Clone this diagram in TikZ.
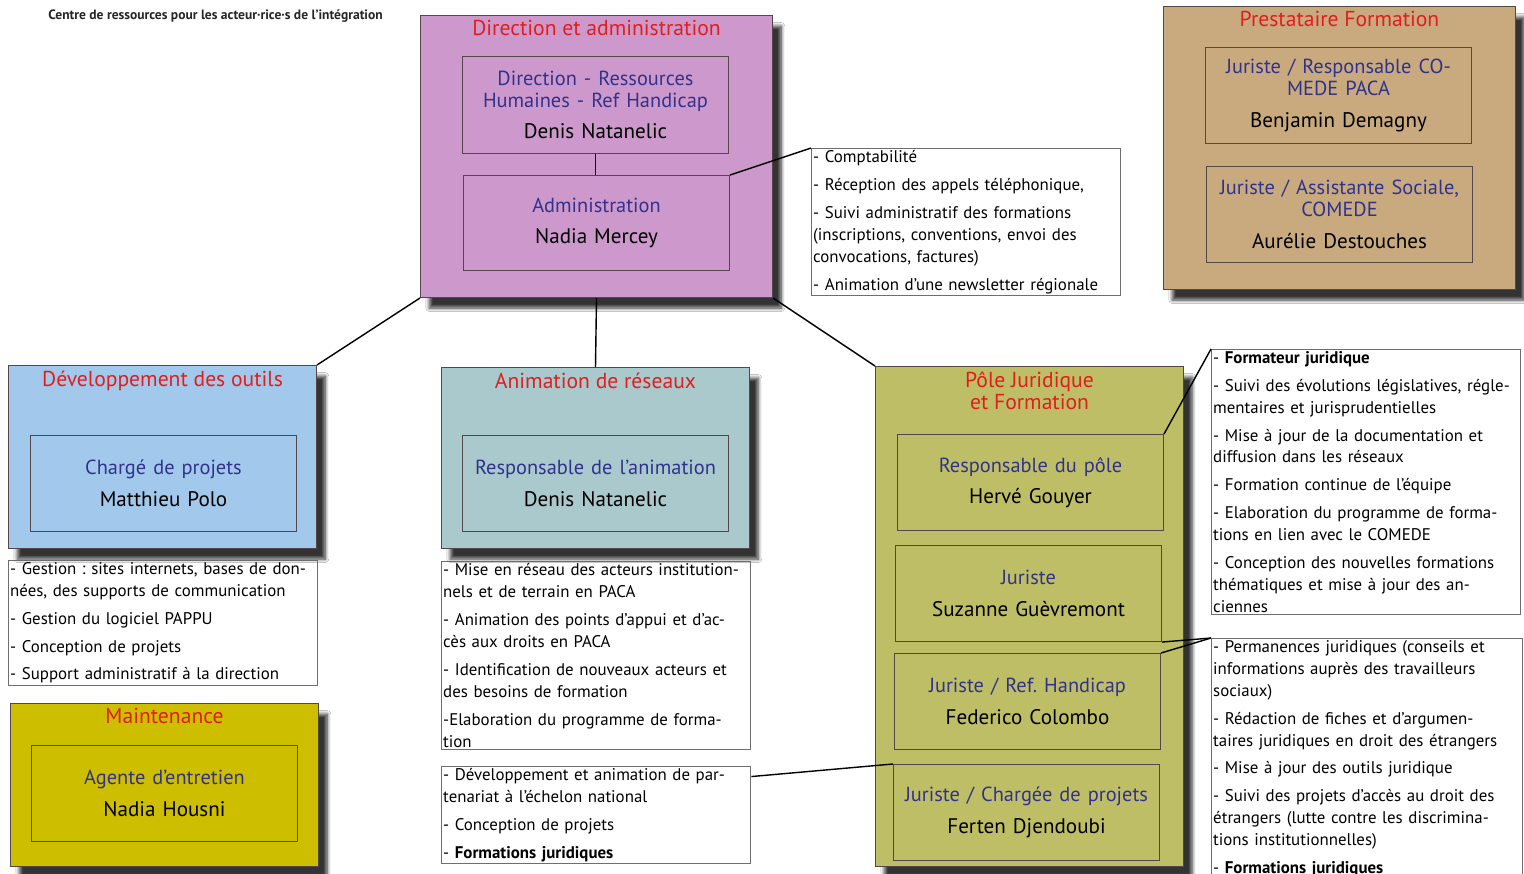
\documentclass[tikz,border=0pt]{standalone}
\usepackage{fontspec}
\setmainfont{PT Sans}
\usetikzlibrary{positioning,shadows.blur}
\frenchspacing

\definecolor{rose}{RGB}{205,153,204}
\definecolor{sable}{RGB}{200,170,126}
\definecolor{ciel}{RGB}{162,201,236}
\definecolor{moutarde}{RGB}{205,190,0}
\definecolor{bleugris}{RGB}{169,201,204}
\definecolor{olive}{RGB}{190,190,102}
\definecolor{rouge}{RGB}{225,30,30}
\definecolor{bleu}{RGB}{50,50,140}
\definecolor{cadre}{RGB}{85,70,75}
\definecolor{gris}{RGB}{110,110,110}

\newcommand{\fonction}[1]{{\color{bleu}\fontsize{11.6}{12.5}\selectfont #1}}

\tikzset{
  dept/.style={draw=cadre, line width=0.6pt, anchor=north west, minimum width=6.16cm, inner sep=0pt,
    blur shadow={shadow xshift=5pt, shadow yshift=-6pt, shadow blur steps=8, shadow opacity=80}},
  poste/.style={draw=cadre, line width=0.6pt, anchor=north west, minimum width=5.32cm, minimum height=1.92cm,
    text width=5.25cm, align=center, inner sep=0pt, font=\fontsize{12}{12.5}\selectfont},
  entete/.style={text=rouge, font=\fontsize{12.3}{12.8}\selectfont, align=center, inner sep=1pt},
  taches/.style={draw=gris, line width=0.5pt, anchor=north west, text width=6.12cm, align=left,
    inner sep=1pt, font=\fontsize{9.6}{12.5}\selectfont},
  lien/.style={line width=0.8pt}
}

\begin{document}
\begin{tikzpicture}[x=0.02cm, y=-0.02cm]
\fill[white] (0,0) rectangle (1524,873);
\useasboundingbox (0,0) rectangle (1524,873);

\node[anchor=west, inner sep=0pt, font=\bfseries\fontsize{7.7}{9}\selectfont, text=black!85] (titre) at (48,16)
  {Centre de ressources pour les acteur·rice·s de l’intégration};

% direction
\node[dept, fill=rose, minimum width=7.04cm, minimum height=5.64cm] (dir) at (420,15) {};
\node[entete, below=2pt of dir.north] (dirtitre) {Direction et administration};
\node[poste, minimum height=1.94cm] (drh) at (462,56)
  {\fonction{Direction - Ressources\\Humaines - Ref Handicap}\\[5.5pt]Denis Natanelic};
\node[poste, minimum height=1.90cm] (admin) at (463,175)
  {\fonction{Administration}\\[5.5pt]Nadia Mercey};
\node[taches] (compta) at (811,148)
  {- Comptabilité\\[3.4pt]
   - Réception des appels téléphonique,\\[3.4pt]
   - Suivi administratif des formations\\
   (inscriptions, conventions, envoi des\\
   convocations, factures)\\[3.4pt]
   - Animation d’une newsletter régionale};

% prestataire
\node[dept, fill=sable, minimum width=7.04cm, minimum height=5.66cm] (presta) at (1163,6) {};
\node[entete, below=2pt of presta.north] (prestatitre) {Prestataire Formation};
\node[poste] (comede) at (1205,47)
  {\fonction{Juriste / Responsable CO-\\MEDE PACA}\\[5.5pt]Benjamin Demagny};
\node[poste] (assist) at (1206,166)
  {\fonction{Juriste / Assistante Sociale,\\COMEDE}\\[5.5pt]Aurélie Destouches};

% outils
\node[dept, fill=ciel, minimum height=3.66cm] (outils) at (8,365) {};
\node[entete, below=2pt of outils.north] (outilstitre) {Développement des outils};
\node[poste] (charge) at (30,435) {\fonction{Chargé de projets}\\[5.5pt]Matthieu Polo};
\node[taches] (outilstaches) at (8,560)
  {- Gestion : sites internets, bases de don-\\
   nées, des supports de communication\\[3.4pt]
   - Gestion du logiciel PAPPU\\[3.4pt]
   - Conception de projets\\[3.4pt]
   - Support administratif à la direction};

% maintenance
\node[dept, fill=moutarde, minimum height=3.26cm] (maint) at (10,703) {};
\node[entete, below=2pt of maint.north] (mainttitre) {Maintenance};
\node[poste] (agente) at (31,745) {\fonction{Agente d’entretien}\\[5.5pt]Nadia Housni};

% animation
\node[dept, fill=bleugris, minimum height=3.62cm] (anim) at (441,367) {};
\node[entete, below=2pt of anim.north] (animtitre) {Animation de réseaux};
\node[poste] (respanim) at (462,435) {\fonction{Responsable de l’animation}\\[5.5pt]Denis Natanelic};
\node[taches] (animtaches) at (441,561)
  {- Mise en réseau des acteurs institution-\\
   nels et de terrain en PACA\\[3.4pt]
   - Animation des points d’appui et d’ac-\\
   cès aux droits en PACA\\[3.4pt]
   - Identification de nouveaux acteurs et\\
   des besoins de formation\\[3.4pt]
   -Elaboration du programme de forma-\\
   tion};
\node[taches] (partenariat) at (441,766)
  {- Développement et animation de par-\\
   tenariat à l’échelon national\\[3.4pt]
   - Conception de projets\\[3.4pt]
   - \textbf{Formations juridiques}};

% pole juridique
\node[dept, fill=olive, minimum height=10cm] (pole) at (875,366) {};
\node[entete, below=2pt of pole.north] (poletitre) {Pôle Juridique\\et Formation};
\node[poste] (resppole) at (897,434) {\fonction{Responsable du pôle}\\[5.5pt]Hervé Gouyer};
\node[poste] (juriste) at (895,545) {\fonction{Juriste}\\[5.5pt]Suzanne Guèvremont};
\node[poste] (handi) at (894,653) {\fonction{Juriste / Ref. Handicap}\\[5.5pt]Federico Colombo};
\node[poste] (ferten) at (893,764) {\fonction{Juriste / Chargée de projets}\\[5.5pt]Ferten Djendoubi};
\node[taches] (formateur) at (1211,349)
  {- \textbf{Formateur juridique}\\[3.4pt]
   - Suivi des évolutions législatives, régle-\\
   mentaires et jurisprudentielles\\[3.4pt]
   - Mise à jour de la documentation et\\
   diffusion dans les réseaux\\[3.4pt]
   - Formation continue de l’équipe\\[3.4pt]
   - Elaboration du programme de forma-\\
   tions en lien avec le COMEDE\\[3.4pt]
   - Conception des nouvelles formations\\
   thématiques et mise à jour des an-\\
   ciennes};
\node[taches, text width=6.16cm] (perm) at (1211,638)
  {- Permanences juridiques (conseils et\\
   informations auprès des travailleurs\\
   sociaux)\\[3.4pt]
   - Rédaction de fiches et d’argumen-\\
   taires juridiques en droit des étrangers\\[3.4pt]
   - Mise à jour des outils juridique\\[3.4pt]
   - Suivi des projets d’accès au droit des\\
   étrangers (lutte contre les discrimina-\\
   tions institutionnelles)\\[3.4pt]
   - \textbf{Formations juridiques}};

% liens
\draw[lien] (drh.south) -- (drh.south |- admin.north);
\draw[lien] (admin.north east) -- (compta.north west);
\draw[lien] (dir.south west) -- (outils.north east);
\draw[lien] (dir.south) -- (anim.north);
\draw[lien] (dir.south east) -- (pole.north west);
\draw[lien] (resppole.north east) -- (formateur.north west);
\draw[lien] (juriste.south east) -- (perm.north west);
\draw[lien] (handi.north east) -- (perm.north west);
\draw[lien] ([yshift=-6pt]partenariat.north east) -- (ferten.north west);
\end{tikzpicture}
\end{document}
